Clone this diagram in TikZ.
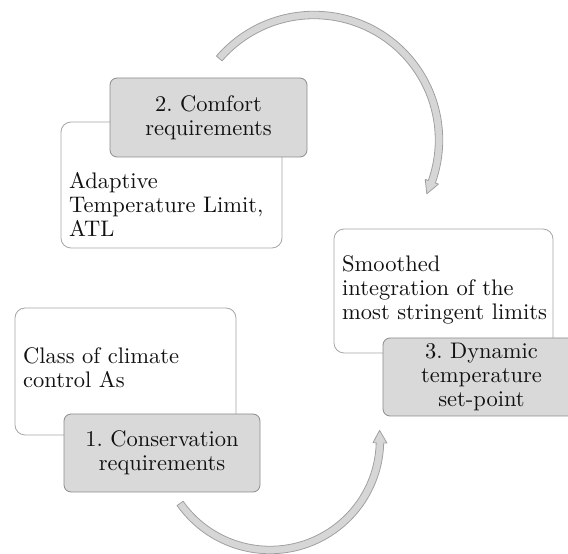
\documentclass[tikz,border=0pt]{standalone}
\usepackage{fontspec}
\newfontfamily\diagfont{lmroman10-regular}[Extension=.otf]
\usetikzlibrary{calc}
\definecolor{boxline}{HTML}{A6A6A6}
\definecolor{grayfill}{HTML}{D9D9D9}
\definecolor{grayline}{HTML}{8C8C8C}
\definecolor{arrowfill}{HTML}{D6D6D6}
\definecolor{arrowline}{HTML}{A0A0A0}
\definecolor{txt}{HTML}{111111}
\begin{document}
\frenchspacing
\begin{tikzpicture}[x=1pt,y=1pt,
  whitebox/.style={draw=boxline, fill=white, rounded corners=10pt, line width=0.8pt, inner sep=0pt},
  graybox/.style={draw=grayline, fill=grayfill, rounded corners=7pt, line width=0.8pt, align=center, text=txt, font=\diagfont\fontsize{22.5}{24}\selectfont\frenchspacing, inner sep=0pt},
  bodytext/.style={align=left, text=txt, font=\diagfont\fontsize{22.5}{24}\selectfont\frenchspacing, inner sep=0pt},
  cyclearrow/.style={draw=arrowline, fill=arrowfill, line width=0.8pt, line join=round}]
\useasboundingbox (0,0) rectangle (568,554);
\clip (0,0) rectangle (568,554);

% step 2
\node[whitebox, minimum width=221pt, minimum height=126pt] (w2) at (171.5,369) {};
\node[bodytext, anchor=base west] (t2) at (69,317) {Adaptive\\Temperature Limit,\\ATL};
\node[graybox, minimum width=197pt, minimum height=79pt] (g2) at (208.5,436.5) {2. Comfort\\requirements};

% step 3
\node[whitebox, minimum width=219pt, minimum height=124pt] (w3) at (443.5,263) {};
\node[bodytext, anchor=base west] (t3) at (342,234) {Smoothed\\integration of the\\most stringent limits};
\node[graybox, minimum width=197pt, minimum height=78pt] (g3) at (481.5,177) {3. Dynamic\\temperature\\set-point};

% step 1
\node[whitebox, minimum width=221pt, minimum height=127pt] (w1) at (125.5,182.5) {};
\node[bodytext, anchor=base west] (t1) at (23,166) {Class of climate\\control As};
\node[graybox, minimum width=196pt, minimum height=78pt] (g1) at (162,101) {1. Conservation\\requirements};

% cycle arrows
\coordinate (c1) at (314,414);
\coordinate (c2) at (270,114);
\begin{scope}[shift={(c1)}]
\path[cyclearrow] (139.3:128.75pt) arc[start angle=139.3, end angle=-19.5, radius=128.75pt]
  -- (-19.5:132pt) -- (-25.5:125pt) -- (-19.5:118pt) -- (-19.5:121.25pt)
  arc[start angle=-19.5, end angle=139.3, radius=121.25pt] -- cycle;
\end{scope}
\begin{scope}[shift={(c2)}]
\path[cyclearrow] (215.2:113.75pt) arc[start angle=215.2, end angle=358.5, radius=113.75pt]
  -- (358.5:117pt) -- (365:110pt) -- (358.5:103pt) -- (358.5:106.25pt)
  arc[start angle=358.5, end angle=215.2, radius=106.25pt] -- cycle;
\end{scope}
\end{tikzpicture}
\end{document}
